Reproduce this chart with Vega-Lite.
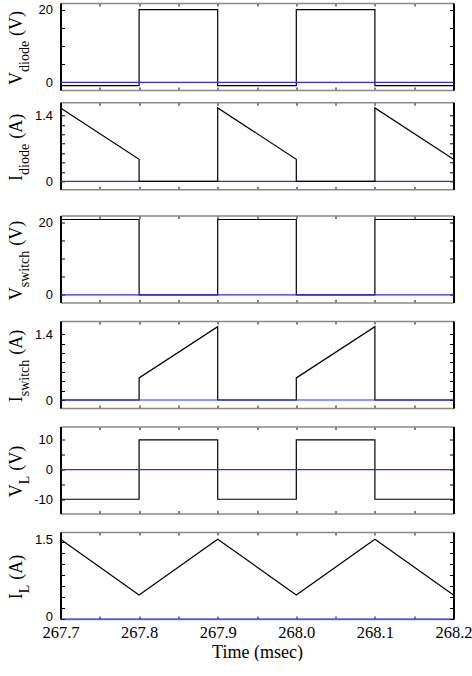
{
  "$schema": "https://vega.github.io/schema/vega-lite/v6.json",
  "padding": {"left": 6.5, "top": 2, "right": 0, "bottom": 0},
  "spacing": 24.5,
  "datasets": {
    "sig": [
      {"p": "Vd", "i": 0, "t": 267.7, "v": -0.9}, {"p": "Vd", "i": 1, "t": 267.8, "v": -0.9}, {"p": "Vd", "i": 2, "t": 267.8, "v": 20}, {"p": "Vd", "i": 3, "t": 267.9, "v": 20}, {"p": "Vd", "i": 4, "t": 267.9, "v": -0.9}, {"p": "Vd", "i": 5, "t": 268.0, "v": -0.9}, {"p": "Vd", "i": 6, "t": 268.0, "v": 20}, {"p": "Vd", "i": 7, "t": 268.1, "v": 20}, {"p": "Vd", "i": 8, "t": 268.1, "v": -0.9}, {"p": "Vd", "i": 9, "t": 268.2, "v": -0.9},
      {"p": "Id", "i": 0, "t": 267.7, "v": 1.56}, {"p": "Id", "i": 1, "t": 267.8, "v": 0.47}, {"p": "Id", "i": 2, "t": 267.8, "v": 0}, {"p": "Id", "i": 3, "t": 267.9, "v": 0}, {"p": "Id", "i": 4, "t": 267.9, "v": 1.56}, {"p": "Id", "i": 5, "t": 268.0, "v": 0.47}, {"p": "Id", "i": 6, "t": 268.0, "v": 0}, {"p": "Id", "i": 7, "t": 268.1, "v": 0}, {"p": "Id", "i": 8, "t": 268.1, "v": 1.56}, {"p": "Id", "i": 9, "t": 268.2, "v": 0.47},
      {"p": "Vs", "i": 0, "t": 267.7, "v": 20.7}, {"p": "Vs", "i": 1, "t": 267.8, "v": 20.7}, {"p": "Vs", "i": 2, "t": 267.8, "v": 0}, {"p": "Vs", "i": 3, "t": 267.9, "v": 0}, {"p": "Vs", "i": 4, "t": 267.9, "v": 20.7}, {"p": "Vs", "i": 5, "t": 268.0, "v": 20.7}, {"p": "Vs", "i": 6, "t": 268.0, "v": 0}, {"p": "Vs", "i": 7, "t": 268.1, "v": 0}, {"p": "Vs", "i": 8, "t": 268.1, "v": 20.7}, {"p": "Vs", "i": 9, "t": 268.2, "v": 20.7},
      {"p": "Is", "i": 0, "t": 267.7, "v": 0}, {"p": "Is", "i": 1, "t": 267.8, "v": 0}, {"p": "Is", "i": 2, "t": 267.8, "v": 0.47}, {"p": "Is", "i": 3, "t": 267.9, "v": 1.56}, {"p": "Is", "i": 4, "t": 267.9, "v": 0}, {"p": "Is", "i": 5, "t": 268.0, "v": 0}, {"p": "Is", "i": 6, "t": 268.0, "v": 0.47}, {"p": "Is", "i": 7, "t": 268.1, "v": 1.56}, {"p": "Is", "i": 8, "t": 268.1, "v": 0}, {"p": "Is", "i": 9, "t": 268.2, "v": 0},
      {"p": "VL", "i": 0, "t": 267.7, "v": -10}, {"p": "VL", "i": 1, "t": 267.8, "v": -10}, {"p": "VL", "i": 2, "t": 267.8, "v": 10}, {"p": "VL", "i": 3, "t": 267.9, "v": 10}, {"p": "VL", "i": 4, "t": 267.9, "v": -10}, {"p": "VL", "i": 5, "t": 268.0, "v": -10}, {"p": "VL", "i": 6, "t": 268.0, "v": 10}, {"p": "VL", "i": 7, "t": 268.1, "v": 10}, {"p": "VL", "i": 8, "t": 268.1, "v": -10}, {"p": "VL", "i": 9, "t": 268.2, "v": -10},
      {"p": "IL", "i": 0, "t": 267.7, "v": 1.56}, {"p": "IL", "i": 1, "t": 267.8, "v": 0.47}, {"p": "IL", "i": 2, "t": 267.9, "v": 1.56}, {"p": "IL", "i": 3, "t": 268.0, "v": 0.47}, {"p": "IL", "i": 4, "t": 268.1, "v": 1.56}, {"p": "IL", "i": 5, "t": 268.2, "v": 0.47}
    ],
    "zero": [{"t": 267.7, "v": 0}, {"t": 268.2, "v": 0}]
  },
  "vconcat": [
    {
      "spacing": 12.3,
      "bounds": "flush",
      "vconcat": [
        {
          "width": 393, "height": 87,
          "resolve": {"axis": {"x": "independent", "y": "independent"}},
          "layer": [
            {
              "data": {"name": "sig"},
              "transform": [{"filter": "datum.p == 'Vd'"}],
              "mark": {"type": "line", "color": "black", "strokeWidth": 1.2},
              "encoding": {
                "x": {"field": "t", "type": "quantitative", "scale": {"domain": [267.7, 268.2], "nice": false, "zero": false}, "axis": {"orient": "bottom", "values": [267.7, 267.75, 267.8, 267.85, 267.9, 267.95, 268, 268.05, 268.1, 268.15, 268.2], "labels": false, "title": null}},
                "y": {"field": "v", "type": "quantitative", "scale": {"domain": [-2.1, 21.8], "nice": false, "zero": false}, "axis": {"orient": "left", "values": [0, 5, 10, 15, 20], "labelExpr": "datum.value == 0 ? '0' : datum.value == 20 ? '20' : ''", "title": "V", "titleAngle": -90, "titleAlign": "left", "titleBaseline": "alphabetic", "titleX": -39, "titleY": 81.5}},
                "order": {"field": "i", "type": "quantitative"}
              }
            },
            {
              "data": {"name": "zero"},
              "mark": {"type": "line", "color": "#2b2bff", "strokeWidth": 1.2},
              "encoding": {
                "x": {"field": "t", "type": "quantitative", "scale": {"domain": [267.7, 268.2], "nice": false, "zero": false}, "axis": {"orient": "top", "values": [267.7, 267.75, 267.8, 267.85, 267.9, 267.95, 268, 268.05, 268.1, 268.15, 268.2], "labels": false, "title": "(V)", "titleAngle": -90, "titleAlign": "left", "titleBaseline": "alphabetic", "titleX": -39, "titleY": 32.4}},
                "y": {"field": "v", "type": "quantitative", "scale": {"domain": [-2.1, 21.8], "nice": false, "zero": false}, "axis": {"orient": "right", "values": [0, 5, 10, 15, 20], "labels": false, "title": "diode", "titleFontSize": 14, "titleAngle": -90, "titleAlign": "left", "titleBaseline": "alphabetic", "titleX": -425, "titleY": 68.5}}
              }
            }
          ]
        },
        {
          "width": 393, "height": 87,
          "resolve": {"axis": {"x": "independent", "y": "independent"}},
          "layer": [
            {
              "data": {"name": "zero"},
              "mark": {"type": "line", "color": "#2b2bff", "strokeWidth": 1.2},
              "encoding": {
                "x": {"field": "t", "type": "quantitative", "scale": {"domain": [267.7, 268.2], "nice": false, "zero": false}, "axis": {"orient": "top", "values": [267.7, 267.75, 267.8, 267.85, 267.9, 267.95, 268, 268.05, 268.1, 268.15, 268.2], "labels": false, "title": "(A)", "titleAngle": -90, "titleAlign": "left", "titleBaseline": "alphabetic", "titleX": -39, "titleY": 36}},
                "y": {"field": "v", "type": "quantitative", "scale": {"domain": [-0.17, 1.68], "nice": false, "zero": false}, "axis": {"orient": "right", "values": [0, 0.2, 0.4, 0.6, 0.8, 1, 1.2, 1.4], "labels": false, "title": "diode", "titleFontSize": 14, "titleAngle": -90, "titleAlign": "left", "titleBaseline": "alphabetic", "titleX": -425, "titleY": 72.1}}
              }
            },
            {
              "data": {"name": "sig"},
              "transform": [{"filter": "datum.p == 'Id'"}],
              "mark": {"type": "line", "color": "black", "strokeWidth": 1.2},
              "encoding": {
                "x": {"field": "t", "type": "quantitative", "scale": {"domain": [267.7, 268.2], "nice": false, "zero": false}, "axis": {"orient": "bottom", "values": [267.7, 267.75, 267.8, 267.85, 267.9, 267.95, 268, 268.05, 268.1, 268.15, 268.2], "labels": false, "title": null}},
                "y": {"field": "v", "type": "quantitative", "scale": {"domain": [-0.17, 1.68], "nice": false, "zero": false}, "axis": {"orient": "left", "values": [0, 0.2, 0.4, 0.6, 0.8, 1, 1.2, 1.4], "labelExpr": "datum.value == 0 ? '0' : datum.value == 1.4 ? '1.4' : ''", "title": "I", "titleAngle": -90, "titleAlign": "left", "titleBaseline": "alphabetic", "titleX": -39, "titleY": 78.1}},
                "order": {"field": "i", "type": "quantitative"}
              }
            }
          ]
        }
      ]
    },
    {
      "spacing": 18.5,
      "bounds": "flush",
      "vconcat": [
        {
          "width": 393, "height": 87,
          "resolve": {"axis": {"x": "independent", "y": "independent"}},
          "layer": [
            {
              "data": {"name": "sig"},
              "transform": [{"filter": "datum.p == 'Vs'"}],
              "mark": {"type": "line", "color": "black", "strokeWidth": 1.2},
              "encoding": {
                "x": {"field": "t", "type": "quantitative", "scale": {"domain": [267.7, 268.2], "nice": false, "zero": false}, "axis": {"orient": "bottom", "values": [267.7, 267.75, 267.8, 267.85, 267.9, 267.95, 268, 268.05, 268.1, 268.15, 268.2], "labels": false, "title": null}},
                "y": {"field": "v", "type": "quantitative", "scale": {"domain": [-2.1, 21.8], "nice": false, "zero": false}, "axis": {"orient": "left", "values": [0, 5, 10, 15, 20], "labelExpr": "datum.value == 0 ? '0' : datum.value == 20 ? '20' : ''", "title": "V", "titleAngle": -90, "titleAlign": "left", "titleBaseline": "alphabetic", "titleX": -39, "titleY": 84.3}},
                "order": {"field": "i", "type": "quantitative"}
              }
            },
            {
              "data": {"name": "zero"},
              "mark": {"type": "line", "color": "#2b2bff", "strokeWidth": 1.2},
              "encoding": {
                "x": {"field": "t", "type": "quantitative", "scale": {"domain": [267.7, 268.2], "nice": false, "zero": false}, "axis": {"orient": "top", "values": [267.7, 267.75, 267.8, 267.85, 267.9, 267.95, 268, 268.05, 268.1, 268.15, 268.2], "labels": false, "title": "(V)", "titleAngle": -90, "titleAlign": "left", "titleBaseline": "alphabetic", "titleX": -39, "titleY": 29.7}},
                "y": {"field": "v", "type": "quantitative", "scale": {"domain": [-2.1, 21.8], "nice": false, "zero": false}, "axis": {"orient": "right", "values": [0, 5, 10, 15, 20], "labels": false, "title": "switch", "titleFontSize": 14, "titleAngle": -90, "titleAlign": "left", "titleBaseline": "alphabetic", "titleX": -425, "titleY": 71.3}}
              }
            }
          ]
        },
        {
          "width": 393, "height": 87,
          "resolve": {"axis": {"x": "independent", "y": "independent"}},
          "layer": [
            {
              "data": {"name": "sig"},
              "transform": [{"filter": "datum.p == 'Is'"}],
              "mark": {"type": "line", "color": "black", "strokeWidth": 1.2},
              "encoding": {
                "x": {"field": "t", "type": "quantitative", "scale": {"domain": [267.7, 268.2], "nice": false, "zero": false}, "axis": {"orient": "bottom", "values": [267.7, 267.75, 267.8, 267.85, 267.9, 267.95, 268, 268.05, 268.1, 268.15, 268.2], "labels": false, "title": null}},
                "y": {"field": "v", "type": "quantitative", "scale": {"domain": [-0.17, 1.68], "nice": false, "zero": false}, "axis": {"orient": "left", "values": [0, 0.2, 0.4, 0.6, 0.8, 1, 1.2, 1.4], "labelExpr": "datum.value == 0 ? '0' : datum.value == 1.4 ? '1.4' : ''", "title": "I", "titleAngle": -90, "titleAlign": "left", "titleBaseline": "alphabetic", "titleX": -39, "titleY": 80.8}},
                "order": {"field": "i", "type": "quantitative"}
              }
            },
            {
              "data": {"name": "zero"},
              "mark": {"type": "line", "color": "#2b2bff", "strokeWidth": 1.2},
              "encoding": {
                "x": {"field": "t", "type": "quantitative", "scale": {"domain": [267.7, 268.2], "nice": false, "zero": false}, "axis": {"orient": "top", "values": [267.7, 267.75, 267.8, 267.85, 267.9, 267.95, 268, 268.05, 268.1, 268.15, 268.2], "labels": false, "title": "(A)", "titleAngle": -90, "titleAlign": "left", "titleBaseline": "alphabetic", "titleX": -39, "titleY": 33.2}},
                "y": {"field": "v", "type": "quantitative", "scale": {"domain": [-0.17, 1.68], "nice": false, "zero": false}, "axis": {"orient": "right", "values": [0, 0.2, 0.4, 0.6, 0.8, 1, 1.2, 1.4], "labels": false, "title": "switch", "titleFontSize": 14, "titleAngle": -90, "titleAlign": "left", "titleBaseline": "alphabetic", "titleX": -425, "titleY": 74.8}}
              }
            }
          ]
        },
        {
          "width": 393, "height": 87,
          "resolve": {"axis": {"x": "independent", "y": "independent"}},
          "layer": [
            {
              "data": {"name": "sig"},
              "transform": [{"filter": "datum.p == 'VL'"}],
              "mark": {"type": "line", "color": "black", "strokeWidth": 1.2},
              "encoding": {
                "x": {"field": "t", "type": "quantitative", "scale": {"domain": [267.7, 268.2], "nice": false, "zero": false}, "axis": {"orient": "bottom", "values": [267.7, 267.75, 267.8, 267.85, 267.9, 267.95, 268, 268.05, 268.1, 268.15, 268.2], "labels": false, "title": null}},
                "y": {"field": "v", "type": "quantitative", "scale": {"domain": [-14.8, 14.5], "nice": false, "zero": false}, "axis": {"orient": "left", "values": [-10, -5, 0, 5, 10], "labelExpr": "datum.value == 10 ? '10' : datum.value == 0 ? '0' : datum.value == -10 ? '-10' : ''", "title": "V", "titleAngle": -90, "titleAlign": "left", "titleBaseline": "alphabetic", "titleX": -39, "titleY": 70.3}},
                "order": {"field": "i", "type": "quantitative"}
              }
            },
            {
              "data": {"name": "zero"},
              "mark": {"type": "line", "color": "#2b2bff", "strokeWidth": 1.2},
              "encoding": {
                "x": {"field": "t", "type": "quantitative", "scale": {"domain": [267.7, 268.2], "nice": false, "zero": false}, "axis": {"orient": "top", "values": [267.7, 267.75, 267.8, 267.85, 267.9, 267.95, 268, 268.05, 268.1, 268.15, 268.2], "labels": false, "title": "(V)", "titleAngle": -90, "titleAlign": "left", "titleBaseline": "alphabetic", "titleX": -39, "titleY": 43.7}},
                "y": {"field": "v", "type": "quantitative", "scale": {"domain": [-14.8, 14.5], "nice": false, "zero": false}, "axis": {"orient": "right", "values": [-10, -5, 0, 5, 10], "labels": false, "title": "L", "titleFontSize": 14, "titleAngle": -90, "titleAlign": "left", "titleBaseline": "alphabetic", "titleX": -425, "titleY": 57.3}}
              }
            }
          ]
        },
        {
          "width": 393, "height": 87,
          "resolve": {"axis": {"x": "independent", "y": "independent"}},
          "layer": [
            {
              "data": {"name": "sig"},
              "transform": [{"filter": "datum.p == 'IL'"}],
              "mark": {"type": "line", "color": "black", "strokeWidth": 1.2},
              "encoding": {
                "x": {"field": "t", "type": "quantitative", "scale": {"domain": [267.7, 268.2], "nice": false, "zero": false}, "axis": {"orient": "bottom", "values": [267.7, 267.75, 267.8, 267.85, 267.9, 267.95, 268, 268.05, 268.1, 268.15, 268.2], "labels": true, "labelPadding": 8.5, "labelExpr": "abs(datum.value * 10 - round(datum.value * 10)) < 0.001 ? format(datum.value, '.1f') : ''", "title": "Time (msec)", "titleFontSize": 18, "titleAngle": 0, "titleAlign": "center", "titleBaseline": "alphabetic", "titleX": 196.5, "titleY": 38}},
                "y": {"field": "v", "type": "quantitative", "scale": {"domain": [0, 1.7], "nice": false, "zero": false}, "axis": {"orient": "left", "values": [0, 0.2143, 0.4286, 0.6429, 0.8571, 1.0714, 1.2857, 1.5], "labelOffset": -3, "labelExpr": "datum.value == 0 ? '0' : datum.value == 1.5 ? '1.5' : ''", "title": "I", "titleAngle": -90, "titleAlign": "left", "titleBaseline": "alphabetic", "titleX": -39, "titleY": 66.8}},
                "order": {"field": "i", "type": "quantitative"}
              }
            },
            {
              "data": {"name": "zero"},
              "mark": {"type": "line", "color": "#2b2bff", "strokeWidth": 1.2},
              "encoding": {
                "x": {"field": "t", "type": "quantitative", "scale": {"domain": [267.7, 268.2], "nice": false, "zero": false}, "axis": {"orient": "top", "values": [267.7, 267.75, 267.8, 267.85, 267.9, 267.95, 268, 268.05, 268.1, 268.15, 268.2], "labels": false, "title": "(A)", "titleAngle": -90, "titleAlign": "left", "titleBaseline": "alphabetic", "titleX": -39, "titleY": 47.2}},
                "y": {"field": "v", "type": "quantitative", "scale": {"domain": [0, 1.7], "nice": false, "zero": false}, "axis": {"orient": "right", "values": [0, 0.2143, 0.4286, 0.6429, 0.8571, 1.0714, 1.2857, 1.5], "labels": false, "title": "L", "titleFontSize": 14, "titleAngle": -90, "titleAlign": "left", "titleBaseline": "alphabetic", "titleX": -425, "titleY": 60.8}}
              }
            }
          ]
        }
      ]
    }
  ],
  "config": {
    "view": {"stroke": null},
    "axis": {
      "grid": false,
      "tickSize": -4,
      "tickColor": "black",
      "tickWidth": 1,
      "domainColor": "black",
      "domainWidth": 1.5,
      "labelFont": "Liberation Sans",
      "labelFontSize": 13,
      "labelColor": "black",
      "labelPadding": 12,
      "labelOverlap": false,
      "labelFlush": false,
      "titleFont": "Liberation Serif",
      "titleFontSize": 18,
      "titleFontWeight": "normal",
      "titleColor": "black",
      "zindex": 0
    },
    "axisLeft": {"domainWidth": 2},
    "axisRight": {"domainWidth": 2},
    "axisTop": {"domainColor": "#888", "tickSize": -3},
    "axisBottom": {"domainColor": "#888", "tickSize": -3, "labelFont": "Liberation Serif", "labelFontSize": 16.5, "labelPadding": 7}
  }
}
